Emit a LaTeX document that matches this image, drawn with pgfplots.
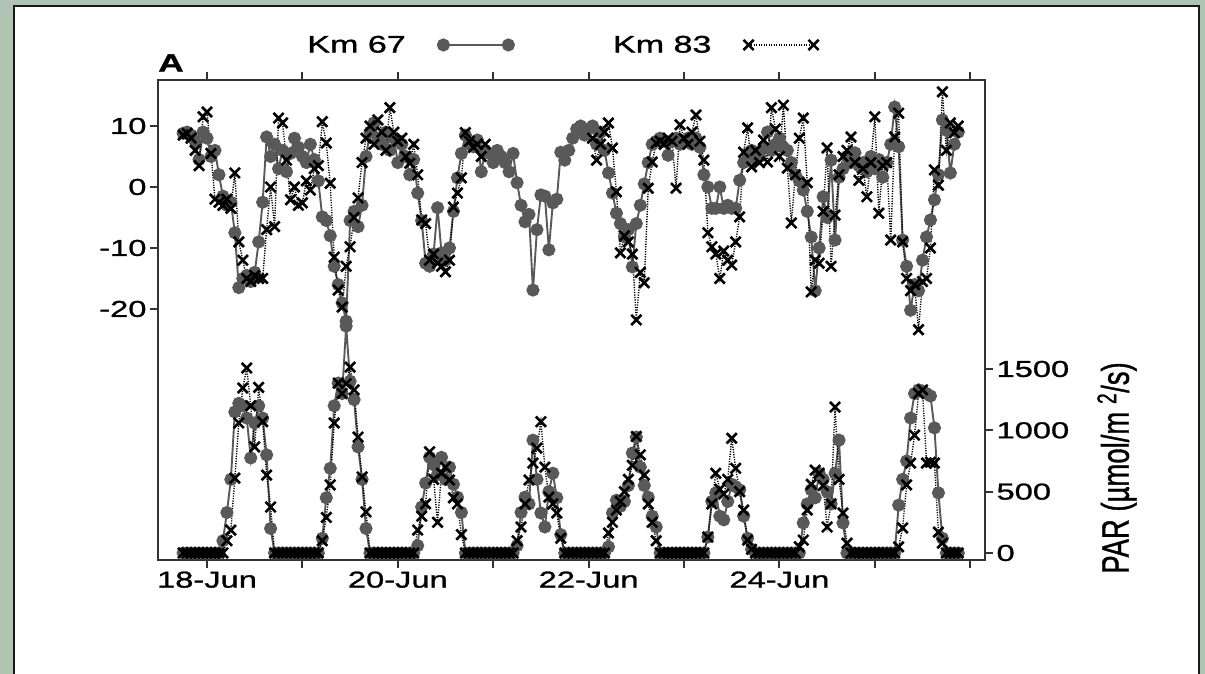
\documentclass[border=0pt]{standalone}
\usepackage{fontspec}
\setmainfont{Liberation Sans}[FakeStretch=1.42, FakeBold=1.2]
\newfontfamily\labelfont{Liberation Sans}[FakeBold=1.2]
\usepackage{pgfplots}
\usepackage{pgfplotstable}
\pgfplotsset{compat=1.18}
\definecolor{bggreen}{HTML}{B1C4B4}
\definecolor{axgray}{HTML}{333333}
\definecolor{kmgray}{HTML}{595959}

% Km 67, upper panel (x = hours after 18-Jun 00:00)
\pgfplotstableread[row sep=\\]{
h v\\
-6 8.8\\ -5 9.0\\ -4 8.5\\ -3 7.5\\ -2 4.5\\ -1 9.0\\ 0 8.0\\ 1 5.0\\ 2 6.0\\ 3 2.0\\ 4 -1.5\\ 5 -3.0\\
6 -2.5\\ 7 -7.5\\ 8 -16.5\\ 9 -15.0\\ 10 -14.5\\ 11 -15.5\\ 12 -14.0\\ 13 -9.0\\ 14 -2.5\\ 15 8.2\\ 16 5.0\\ 17 7.0\\
18 3.0\\ 19 6.0\\ 20 2.5\\ 21 5.5\\ 22 8.0\\ 23 6.5\\ 24 5.0\\ 25 4.0\\ 26 7.0\\ 27 4.5\\ 28 1.0\\ 29 -4.9\\
30 -5.5\\ 31 -8.0\\ 32 -13.0\\ 33 -16.0\\ 34 -19.0\\ 35 -22.0\\ 36 -5.5\\ 37 -4.0\\ 38 -6.5\\ 39 -3.0\\ 40 5.0\\ 41 9.0\\
42 10.5\\ 43 8.0\\ 44 7.0\\ 45 9.0\\ 46 6.0\\ 47 8.0\\ 48 4.0\\ 49 7.0\\ 50 5.0\\ 51 2.0\\ 52 4.5\\ 53 -1.0\\
54 -5.5\\ 55 -12.5\\ 56 -13.0\\ 57 -11.0\\ 58 -3.4\\ 59 -10.8\\ 60 -12.0\\ 61 -10.0\\ 62 -4.0\\ 63 1.5\\ 64 5.5\\ 65 8.5\\
66 7.0\\ 67 6.6\\ 68 7.7\\ 69 2.5\\ 70 6.0\\ 71 5.5\\ 72 4.0\\ 73 6.0\\ 74 5.0\\ 75 4.0\\ 76 2.5\\ 77 5.5\\
78 0.7\\ 79 -3.0\\ 80 -5.7\\ 81 -4.5\\ 82 -16.9\\ 83 -7.0\\ 84 -1.3\\ 85 -1.5\\ 86 -10.3\\ 87 -2.6\\ 88 -2.0\\ 89 5.7\\
90 4.4\\ 91 6.0\\ 92 8.0\\ 93 9.5\\ 94 10.0\\ 95 8.5\\ 96 9.5\\ 97 10.0\\ 98 7.0\\ 99 9.0\\ 100 6.0\\ 101 2.3\\
102 -1.0\\ 103 -4.3\\ 104 -6.0\\ 105 -8.2\\ 106 -7.0\\ 107 -13.1\\ 108 -6.0\\ 109 -3.0\\ 110 0.5\\ 111 4.0\\ 112 7.0\\ 113 7.5\\
114 8.0\\ 115 7.5\\ 116 5.2\\ 117 7.5\\ 118 8.0\\ 119 7.0\\ 120 7.5\\ 121 8.0\\ 122 7.0\\ 123 8.0\\ 124 6.5\\ 125 2.0\\
126 0.0\\ 127 -3.5\\ 128 -3.5\\ 129 0.0\\ 130 -3.5\\ 131 -3.0\\ 132 -3.5\\ 133 -3.5\\ 134 1.1\\ 135 4.0\\ 136 5.5\\ 137 6.0\\
138 4.5\\ 139 5.0\\ 140 6.5\\ 141 9.0\\ 142 6.0\\ 143 7.0\\ 144 8.0\\ 145 6.5\\ 146 6.0\\ 147 4.0\\ 148 2.0\\ 149 1.0\\
150 -0.5\\ 151 -4.0\\ 152 -8.2\\ 153 -17.0\\ 154 -10.0\\ 155 -1.6\\ 156 -5.0\\ 157 4.4\\ 158 -8.7\\ 159 1.6\\ 160 3.0\\ 161 5.0\\
162 4.0\\ 163 5.6\\ 164 3.5\\ 165 4.0\\ 166 2.5\\ 167 5.0\\ 168 3.0\\ 169 4.5\\ 170 1.6\\ 171 4.0\\ 172 7.0\\ 173 13.1\\
174 6.6\\ 175 -8.7\\ 176 -13.0\\ 177 -20.2\\ 178 -16.0\\ 179 -17.0\\ 180 -12.0\\ 181 -8.2\\ 182 -5.4\\ 183 -2.1\\ 184 2.0\\ 185 11.0\\
186 9.3\\ 187 2.3\\ 188 7.0\\ 189 9.0\\
}\topA

% Km 83, upper panel
\pgfplotstableread[row sep=\\]{
h v\\
-6 8.5\\ -5 8.8\\ -4 8.0\\ -3 6.0\\ -2 3.5\\ -1 11.5\\ 0 12.3\\ 1 5.5\\ 2 -2.0\\ 3 -2.5\\ 4 -3.0\\ 5 -2.0\\
6 -3.5\\ 7 2.3\\ 8 -9.0\\ 9 -12.0\\ 10 -15.0\\ 11 -15.5\\ 12 -14.5\\ 13 -15.0\\ 14 -15.0\\ 15 -7.0\\ 16 0.0\\ 17 -6.5\\
18 11.3\\ 19 10.5\\ 20 4.4\\ 21 -2.1\\ 22 0.0\\ 23 -3.0\\ 24 -2.6\\ 25 1.0\\ 26 -0.5\\ 27 3.0\\ 28 3.5\\ 29 10.7\\
30 7.2\\ 31 0.6\\ 32 -11.5\\ 33 -16.9\\ 34 -19.7\\ 35 -13.0\\ 36 -9.8\\ 37 -5.0\\ 38 -1.8\\ 39 4.0\\ 40 8.0\\ 41 10.0\\
42 7.0\\ 43 11.0\\ 44 9.0\\ 45 6.0\\ 46 13.0\\ 47 9.0\\ 48 7.5\\ 49 8.0\\ 50 5.0\\ 51 3.9\\ 52 7.0\\ 53 2.0\\
54 -5.4\\ 55 -6.0\\ 56 -12.0\\ 57 -11.0\\ 58 -12.5\\ 59 -13.0\\ 60 -13.9\\ 61 -12.0\\ 62 -3.3\\ 63 -1.0\\ 64 1.5\\ 65 8.9\\
66 7.5\\ 67 6.5\\ 68 7.0\\ 69 5.0\\ 70 7.0\\ 71 nan\\
97 8.0\\ 98 4.4\\ 99 7.0\\ 100 9.0\\ 101 10.5\\ 102 6.4\\ 103 -0.8\\ 104 -10.8\\ 105 -8.0\\ 106 -9.0\\ 107 -11.0\\ 108 -21.8\\
109 -14.0\\ 110 -15.7\\ 111 -0.2\\ 112 4.1\\ 113 7.2\\ 114 7.5\\ 115 7.0\\ 116 8.0\\ 117 7.5\\ 118 -0.2\\ 119 10.2\\ 120 8.0\\
121 7.0\\ 122 9.0\\ 123 11.8\\ 124 7.5\\ 125 4.4\\ 126 -7.5\\ 127 -9.8\\ 128 -11.0\\ 129 -15.0\\ 130 -10.5\\ 131 -12.0\\ 132 -12.8\\
133 -9.0\\ 134 -4.9\\ 135 5.7\\ 136 9.7\\ 137 3.3\\ 138 6.0\\ 139 4.0\\ 140 7.7\\ 141 4.1\\ 142 13.0\\ 143 9.5\\ 144 5.0\\
145 13.4\\ 146 3.1\\ 147 -5.9\\ 148 2.0\\ 149 8.0\\ 150 11.3\\ 151 0.7\\ 152 -17.2\\ 153 -12.0\\ 154 -12.5\\ 155 -4.0\\ 156 6.4\\
157 -13.0\\ 158 -4.6\\ 159 2.0\\ 160 5.0\\ 161 6.0\\ 162 8.2\\ 163 4.0\\ 164 1.1\\ 165 3.0\\ 166 -1.6\\ 167 4.0\\ 168 11.5\\
169 -4.3\\ 170 3.5\\ 171 4.0\\ 172 -8.7\\ 173 8.2\\ 174 12.1\\ 175 -9.0\\ 176 -15.0\\ 177 -17.0\\ 178 -16.0\\ 179 -23.4\\ 180 -15.5\\
181 -15.0\\ 182 -10.0\\ 183 2.8\\ 184 0.3\\ 185 15.6\\ 186 6.0\\ 187 10.5\\ 188 8.9\\ 189 10.0\\
}\topB

% Km 67, PAR
\pgfplotstableread[row sep=\\]{
h v\\
-6 0\\ -5 0\\ -4 0\\ -3 0\\ -2 0\\ -1 0\\ 0 0\\ 1 0\\ 2 0\\ 3 0\\
4 100\\ 5 330\\ 6 600\\ 7 1150\\ 8 1220\\ 9 1200\\ 10 1100\\ 11 775\\ 12 1060\\ 13 1200\\ 14 1100\\ 15 800\\ 16 200\\
17 0\\ 18 0\\ 19 0\\ 20 0\\ 21 0\\ 22 0\\ 23 0\\ 24 0\\ 25 0\\ 26 0\\ 27 0\\ 28 0\\
29 120\\ 30 450\\ 31 690\\ 32 1200\\ 33 1385\\ 34 1300\\ 35 1850\\ 36 1400\\ 37 1250\\ 38 865\\ 39 600\\ 40 200\\
41 0\\ 42 0\\ 43 0\\ 44 0\\ 45 0\\ 46 0\\ 47 0\\ 48 0\\ 49 0\\ 50 0\\ 51 0\\ 52 0\\
53 60\\ 54 375\\ 55 570\\ 56 780\\ 57 720\\ 58 640\\ 59 780\\ 60 600\\ 61 700\\ 62 560\\ 63 455\\ 64 330\\
65 0\\ 66 0\\ 67 0\\ 68 0\\ 69 0\\ 70 0\\ 71 0\\ 72 0\\ 73 0\\ 74 0\\ 75 0\\ 76 0\\ 77 0\\
78 60\\ 79 330\\ 80 455\\ 81 400\\ 82 920\\ 83 600\\ 84 326\\ 85 212\\ 86 500\\ 87 650\\ 88 450\\ 89 150\\
90 0\\ 91 0\\ 92 0\\ 93 0\\ 94 0\\ 95 0\\ 96 0\\ 97 0\\ 98 0\\ 99 0\\ 100 0\\
101 50\\ 102 326\\ 103 430\\ 104 380\\ 105 420\\ 106 550\\ 107 815\\ 108 945\\ 109 700\\ 110 550\\ 111 455\\ 112 300\\ 113 212\\
114 0\\ 115 0\\ 116 0\\ 117 0\\ 118 0\\ 119 0\\ 120 0\\ 121 0\\ 122 0\\ 123 0\\ 124 0\\ 125 0\\
126 130\\ 127 420\\ 128 490\\ 129 300\\ 130 270\\ 131 420\\ 132 560\\ 133 540\\ 134 515\\ 135 300\\ 136 120\\ 137 30\\
138 0\\ 139 0\\ 140 0\\ 141 0\\ 142 0\\ 143 0\\ 144 0\\ 145 0\\ 146 0\\ 147 0\\ 148 0\\ 149 0\\
150 245\\ 151 400\\ 152 515\\ 153 450\\ 154 650\\ 155 600\\ 156 500\\ 157 400\\ 158 650\\ 159 920\\ 160 245\\
161 0\\ 162 0\\ 163 0\\ 164 0\\ 165 0\\ 166 0\\ 167 0\\ 168 0\\ 169 0\\ 170 0\\ 171 0\\ 172 0\\ 173 0\\
174 390\\ 175 600\\ 176 750\\ 177 1100\\ 178 1300\\ 179 1330\\ 180 1320\\ 181 1300\\ 182 1280\\ 183 1020\\ 184 490\\ 185 120\\
186 0\\ 187 0\\ 188 0\\ 189 0\\
}\parA

% Km 83, PAR
\pgfplotstableread[row sep=\\]{
h v\\
-6 0\\ -5 0\\ -4 0\\ -3 0\\ -2 0\\ -1 0\\ 0 0\\ 1 0\\ 2 0\\ 3 0\\ 4 0\\
5 100\\ 6 187\\ 7 610\\ 8 1060\\ 9 1345\\ 10 1508\\ 11 1200\\ 12 865\\ 13 1350\\ 14 1070\\ 15 635\\ 16 375\\
17 0\\ 18 0\\ 19 0\\ 20 0\\ 21 0\\ 22 0\\ 23 0\\ 24 0\\ 25 0\\ 26 0\\ 27 0\\ 28 0\\
29 100\\ 30 290\\ 31 555\\ 32 1060\\ 33 1385\\ 34 1300\\ 35 1380\\ 36 1515\\ 37 1330\\ 38 945\\ 39 620\\ 40 335\\
41 0\\ 42 0\\ 43 0\\ 44 0\\ 45 0\\ 46 0\\ 47 0\\ 48 0\\ 49 0\\ 50 0\\ 51 0\\ 52 0\\
53 187\\ 54 300\\ 55 400\\ 56 825\\ 57 600\\ 58 250\\ 59 650\\ 60 700\\ 61 595\\ 62 450\\ 63 400\\ 64 150\\
65 0\\ 66 0\\ 67 0\\ 68 0\\ 69 0\\ 70 0\\ 71 0\\ 72 0\\ 73 0\\ 74 0\\ 75 0\\ 76 0\\ 77 0\\
78 100\\ 79 212\\ 80 400\\ 81 595\\ 82 733\\ 83 855\\ 84 1070\\ 85 700\\ 86 455\\ 87 400\\ 88 326\\ 89 120\\
90 0\\ 91 0\\ 92 0\\ 93 0\\ 94 0\\ 95 0\\ 96 0\\ 97 0\\ 98 0\\ 99 0\\ 100 0\\
101 163\\ 102 250\\ 103 350\\ 104 420\\ 105 500\\ 106 600\\ 107 715\\ 108 950\\ 109 800\\ 110 635\\ 111 400\\ 112 250\\ 113 100\\
114 0\\ 115 0\\ 116 0\\ 117 0\\ 118 0\\ 119 0\\ 120 0\\ 121 0\\ 122 0\\ 123 0\\ 124 0\\ 125 0\\
126 130\\ 127 400\\ 128 650\\ 129 520\\ 130 480\\ 131 600\\ 132 935\\ 133 690\\ 134 500\\ 135 350\\ 136 105\\ 137 30\\
138 0\\ 139 0\\ 140 0\\ 141 0\\ 142 0\\ 143 0\\ 144 0\\ 145 0\\ 146 0\\ 147 0\\ 148 0\\
149 50\\ 150 105\\ 151 350\\ 152 560\\ 153 675\\ 154 650\\ 155 550\\ 156 212\\ 157 400\\ 158 1190\\ 159 600\\ 160 326\\ 161 80\\
162 0\\ 163 0\\ 164 0\\ 165 0\\ 166 0\\ 167 0\\ 168 0\\ 169 0\\ 170 0\\ 171 0\\ 172 0\\ 173 0\\
174 50\\ 175 204\\ 176 555\\ 177 733\\ 178 960\\ 179 1300\\ 180 1330\\ 181 733\\ 182 740\\ 183 733\\ 184 170\\ 185 80\\
186 0\\ 187 0\\ 188 0\\ 189 0\\
}\parB

\pgfplotsset{
  km67/.style={kmgray, line width=1.9pt, mark=*, mark size=5.6pt,
    mark options={solid, fill=kmgray, draw=kmgray}},
  km83/.style={black, line width=1.4pt, dash pattern=on 1.2pt off 1.3pt,
    mark=x, mark size=7.2pt, mark options={solid, line width=2.6pt, black}},
  baseaxis/.style={
    at={(158pt,114pt)}, anchor=south west,
    width=827pt, height=480pt, scale only axis,
    xmin=-12.33, xmax=195.72,
    tick align=outside, major tick length=8pt,
    tick style={axgray, line width=2pt},
    axis line style={axgray, line width=2.6pt},
    every tick label/.append style={font=\fontsize{23}{26}\selectfont, text=black},
  },
}

\begin{document}
\begin{tikzpicture}[x=1pt,y=1pt]
\fill[bggreen] (0,0) rectangle (1205,674);
\useasboundingbox (0,0) rectangle (1205,674);
\fill[white] (14,0) rectangle (1199,668);
\draw[line width=2.6pt, black!90] (14,-5) -- (14,668) -- (1199,668) -- (1199,-5);

\begin{axis}[baseaxis,
  ymin=-61.15, ymax=17.54,
  xtick={0,24,...,192},
  xticklabels={18-Jun,,20-Jun,,22-Jun,,24-Jun,,},
  xtick pos=both,
  ytick={-20,-10,0,10}, yticklabels={-20,-10,0,10},
  ytick pos=left,
  unbounded coords=jump,
  legend columns=2,
  legend plot pos=right,
  legend image code/.code={\draw[#1] plot coordinates {(0pt,0pt) (65pt,0pt)};},
  legend style={draw=none, fill=none, at={(axis description cs:0.4885,1.073)},
    anchor=center, font=\fontsize{24}{26}\selectfont,
    /tikz/every odd column/.append style={column sep=30pt},
    /tikz/every even column/.append style={column sep=97pt}},
]
\addplot[km67] table[x=h, y=v] {\topA};
\addlegendentry{Km 67}
\addplot[km83] table[x=h, y=v] {\topB};
\addlegendentry{Km 83}
\end{axis}

\begin{axis}[baseaxis,
  ymin=-57.1, ymax=3856,
  axis x line=none, axis y line*=right,
  ytick={0,500,1000,1500}, yticklabels={0,500,1000,1500},
]
\addplot[km67] table[x=h, y=v] {\parA};
\addplot[km83] table[x=h, y=v] {\parB};
\end{axis}

\node[font=\bfseries\fontsize{25}{28}\selectfont] at (171,611) {A};
\begin{scope}[shift={(1117,206)}]
\node[transform shape, xscale=1.4, rotate=90, font=\labelfont\fontsize{27.5}{30}\selectfont]
  at (0,0) {PAR (µmol/m \textsuperscript{2}/s)};
\end{scope}
\end{tikzpicture}
\end{document}
